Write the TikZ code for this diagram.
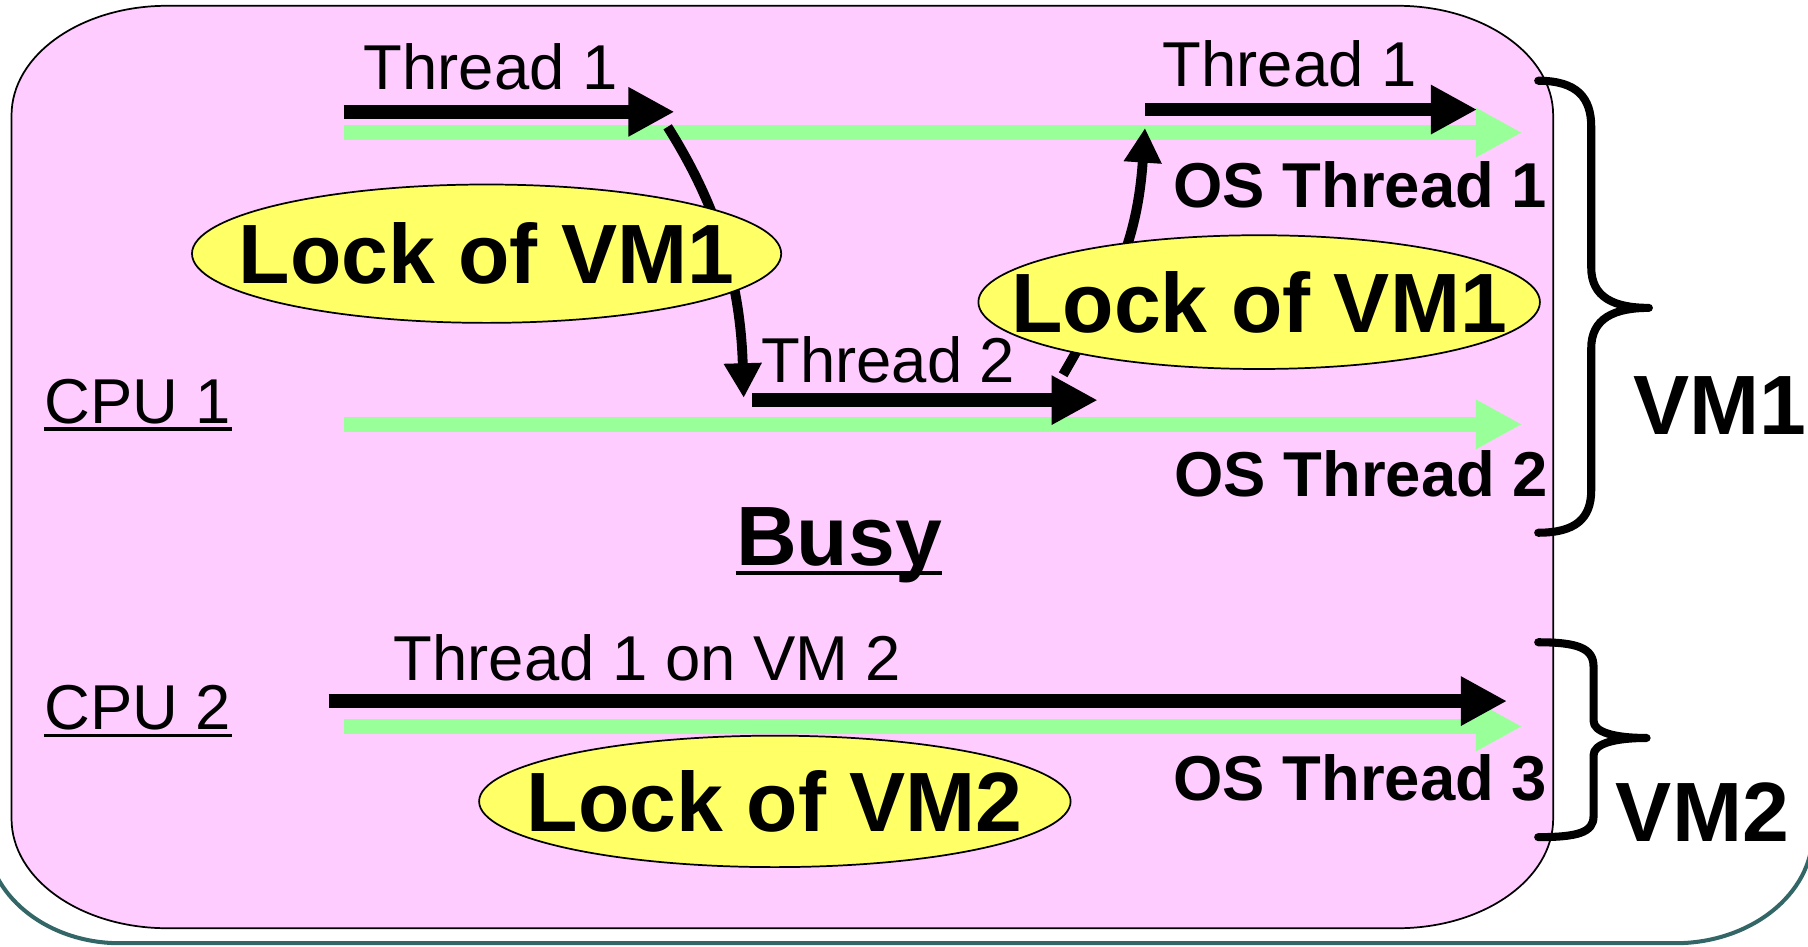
\documentclass[tikz,border=0pt]{standalone}
\usepackage{fontspec}
\setmainfont{Liberation Sans}
\usetikzlibrary{arrows.meta,shapes.geometric}
\definecolor{pinkbg}{HTML}{FFCCFF}
\definecolor{lgreen}{HTML}{99FF99}
\definecolor{lyellow}{HTML}{FFFF66}
\definecolor{tealline}{HTML}{336666}
\begin{document}
\begin{tikzpicture}[x=0.5pt,y=-0.5pt,
  reg/.style={font=\fontsize{27.5}{30}\selectfont, inner sep=0, anchor=base west},
  bld/.style={font=\fontsize{27.5}{30}\selectfont\bfseries, inner sep=0, anchor=base east},
  big/.style={font=\fontsize{36.5}{40}\selectfont\bfseries, inner sep=0, anchor=base west},
  lockell/.style={ellipse, draw=black, line width=0.75pt, fill=lyellow, inner sep=0},
  locktxt/.style={font=\fontsize{36.5}{40}\selectfont\bfseries, inner sep=0},
  garrow/.style={draw=lgreen, line width=6.5pt, -{Triangle[length=20pt,width=20pt]}},
  karrow/.style={draw=black, line width=6pt, -{Triangle[length=20pt,width=20pt]}},
  carrow/.style={draw=black, line width=4.25pt, -{Triangle[length=15pt,width=15.5pt]}},
  bracepath/.style={draw=black, line width=3.5pt, line cap=round, line join=round},
  uline/.style={draw=black, line width=1.5pt},
]
\useasboundingbox (0,0) rectangle (1568,821);
\clip (0,0) rectangle (1568,821);

% outer teal frame (partly visible)
\draw[tealline, line width=1.75pt] (1572,-300) -- (1572,723)
  .. controls (1572,775.5) and (1518,818) .. (1453,818) -- (104,818)
  .. controls (40,818) and (-12,775.5) .. (-12,723) -- (-12,-300);

% pink box
\draw[fill=pinkbg, draw=black, line width=0.75pt]
  (145,5) -- (1212,5) .. controls (1286.6,5) and (1347,47.5) .. (1347,100)
  -- (1347,710) .. controls (1347,762.5) and (1286.6,805) .. (1212,805)
  -- (145,805) .. controls (70.4,805) and (10,762.5) .. (10,710)
  -- (10,100) .. controls (10,47.5) and (70.4,5) .. (145,5) -- cycle;

% coordinates
\coordinate (g1s) at (298,115); \coordinate (g1e) at (1320,115);
\coordinate (g2s) at (298,368); \coordinate (g2e) at (1320,368);
\coordinate (g3s) at (298,630); \coordinate (g3e) at (1320,630);
\coordinate (a1s) at (298,97);  \coordinate (a1e) at (585,97);
\coordinate (a2s) at (993,95);  \coordinate (a2e) at (1281,95);
\coordinate (a3s) at (652,347); \coordinate (a3e) at (952,347);
\coordinate (a4s) at (285,608); \coordinate (a4e) at (1307,608);
\coordinate (c1s) at (579,110); \coordinate (c1e) at (645,345);
\coordinate (c2s) at (922,325); \coordinate (c2e) at (993,111);

% green OS thread arrows
\draw[garrow] (g1s) -- (g1e);
\draw[garrow] (g2s) -- (g2e);
\draw[garrow] (g3s) -- (g3e);

% black thread arrows
\draw[karrow] (a1s) -- (a1e);
\draw[karrow] (a2s) -- (a2e);
\draw[karrow] (a3s) -- (a3e);
\draw[karrow] (a4s) -- (a4e);

% curved transfer arrows
\draw[carrow] (c1s) .. controls (620,175) and (642,240) .. (c1e);
\draw[carrow] (c2s) .. controls (962,255) and (986,215) .. (c2e);

% lock ellipses
\node[lockell, minimum width=255.5pt, minimum height=60pt] (l1) at (422,220) {};
\node[locktxt] (l1t) at (l1.center) {Lock of VM1};
\node[lockell, minimum width=243.5pt, minimum height=58pt] (l2) at (1092,262) {};
\node[locktxt] (l2t) at (l2.center) {Lock of VM1};
\node[lockell, minimum width=256.5pt, minimum height=57pt] (l3) at (672,695) {};
\node[locktxt] (l3t) at (l3.center) {Lock of VM2};

% labels
\node[reg] (t1a) at (315,78) {Thread 1};
\node[reg] (t1b) at (1008,75) {Thread 1};
\node[reg] (t2) at (660,332) {Thread 2};
\node[reg] (t1vm2) at (341,590) {Thread 1 on VM 2};
\node[reg] (cpu1) at (38,367) {CPU 1};
\node[reg] (cpu2) at (38,633) {CPU 2};
\node[bld] (os1) at (1342,180) {OS Thread 1};
\node[bld] (os2) at (1343,431) {OS Thread 2};
\node[bld] (os3) at (1342,694) {OS Thread 3};
\node[big] (busy) at (638,490) {Busy};
\node[big] (vm1) at (1416,377) {VM1};
\node[big] (vm2) at (1401,730) {VM2};

% underlines
\draw[uline] ([yshift=-2.5pt]cpu1.base west) -- ([yshift=-2.5pt]cpu1.base east);
\draw[uline] ([yshift=-2.5pt]cpu2.base west) -- ([yshift=-2.5pt]cpu2.base east);
\draw[uline, line width=2pt] ([yshift=-3.5pt]busy.base west) -- ([yshift=-3.5pt]busy.base east);

% braces
\draw[bracepath] (1334,70) .. controls (1368,70) and (1380,85) .. (1380,110)
  -- (1380,232) .. controls (1380,258) and (1400,267) .. (1430,267)
  .. controls (1400,267) and (1380,276) .. (1380,302)
  -- (1380,425) .. controls (1380,450) and (1366,462) .. (1334,462);
\draw[bracepath] (1334,557) .. controls (1368,557) and (1382,562) .. (1382,578)
  -- (1382,625) .. controls (1382,635) and (1400,640) .. (1428,640)
  .. controls (1400,640) and (1382,645) .. (1382,655)
  -- (1382,708) .. controls (1382,722) and (1368,726) .. (1334,726);
\end{tikzpicture}
\end{document}
